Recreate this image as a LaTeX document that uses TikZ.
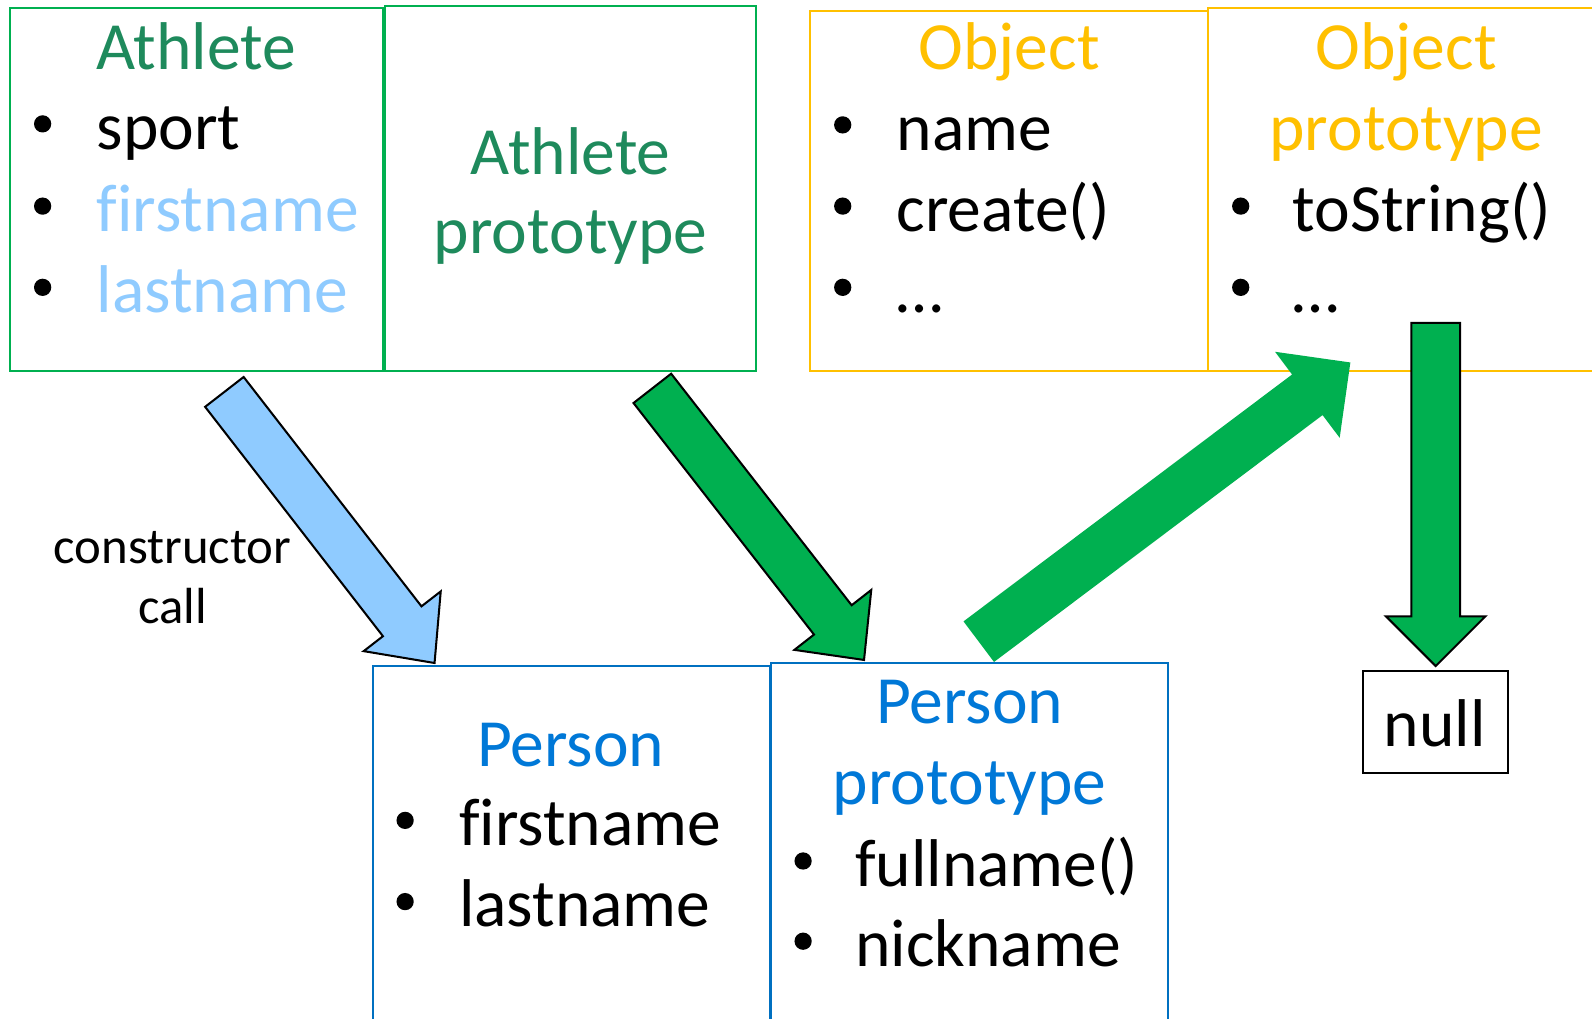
\documentclass[tikz,border=0pt]{standalone}
\usepackage{fontspec}
\setmainfont{Carlito}[Ligatures=NoCommon]
\usetikzlibrary{calc,fit}

\definecolor{boxgreen}{RGB}{0,176,80}
\definecolor{titlegreen}{RGB}{30,138,92}
\definecolor{lightblue}{RGB}{143,203,255}
\definecolor{objorange}{RGB}{255,192,0}
\definecolor{persborder}{RGB}{0,112,192}
\definecolor{perstext}{RGB}{0,120,215}
\definecolor{arrowgreen}{RGB}{0,176,80}

\newcommand\bigtext{\fontsize{66.5}{80}\selectfont}
\newcommand\smalltext{\fontsize{50}{60}\selectfont}

% block arrow: #1 style, #2 tail, #3 tip, #4 shaft half width,
% #5 head half width, #6 head length
\newcommand\blockarrow[6]{%
  \path ($(#3)!#6!(#2)$) coordinate (neck-#3);
  \path[#1] ($(#2)!#4!90:(#3)$) -- ($(neck-#3)!#4!90:(#3)$)
    -- ($(neck-#3)!#5!90:(#3)$) -- (#3)
    -- ($(neck-#3)!#5!-90:(#3)$) -- ($(neck-#3)!#4!-90:(#3)$)
    -- ($(#2)!#4!-90:(#3)$) -- cycle;
}

% one bulleted line: #1 name, #2 bullet x, #3 text x, #4 baseline, #5 colour, #6 text
\newcommand\bulletline[6]{%
  \node[bul] (#1-dot) at (#2,#4-25) {};
  \node[item, text=#5] (#1) at (#3,#4) {#6};
}

\tikzset{
  frame/.style={inner sep=0pt, outer sep=0pt, line width=2pt},
  bul/.style={circle, fill=black, inner sep=0pt, minimum size=17pt},
  item/.style={inner sep=0pt, anchor=base west, font=\bigtext},
  title/.style={inner sep=0pt, anchor=base, font=\bigtext},
  outlined/.style={draw=black, line width=2pt, line join=miter},
}

\begin{document}
\begin{tikzpicture}[x=1pt, y=-1pt]
\useasboundingbox (0,0) rectangle (1568,1003);
\fill[white] (0,0) rectangle (1568,1003);

% ---- Athlete ----
\node[frame, draw=boxgreen, fit={(10,8) (377,365)}] (athlete) {};
\node[title, text=titlegreen] (athlete-t) at (193,68) {Athlete};
\bulletline{ath-sport}{42}{95}{147}{black}{sport}
\bulletline{ath-first}{42}{95}{228}{lightblue}{firstname}
\bulletline{ath-last}{42}{95}{308}{lightblue}{lastname}

\node[frame, draw=boxgreen, fit={(379,6) (745,365)}] (athproto) {};
\node[title, text=titlegreen] (athproto-t1) at (562,172) {Athlete};
\node[title, text=titlegreen] (athproto-t2) at (562,250) {prototype};

% ---- Object ----
\node[frame, draw=objorange, fit={(798,11) (1190,365)}] (object) {};
\node[title, text=objorange] (object-t) at (994,68) {Object};
\bulletline{obj-name}{830}{883}{148}{black}{name}
\bulletline{obj-create}{830}{883}{228}{black}{create()}
\bulletline{obj-more}{830}{883}{308}{black}{…}

\node[frame, draw=objorange, fit={(1190,8) (1580,365)}] (objproto) {};
\node[title, text=objorange] (objproto-t1) at (1385,68) {Object};
\node[title, text=objorange] (objproto-t2) at (1385,148) {prototype};
\bulletline{op-tostring}{1222}{1273}{228}{black}{toString()}
\bulletline{op-more}{1222}{1273}{308}{black}{…}

% ---- Person ----
\node[frame, draw=persborder, fit={(367,656) (758,1020)}] (person) {};
\node[title, text=perstext] (person-t) at (562,755) {Person};
\bulletline{pers-first}{399}{452}{833}{black}{firstname}
\bulletline{pers-last}{399}{452}{913}{black}{lastname}

\node[frame, draw=persborder, fit={(759,653) (1150,1020)}] (persproto) {};
\node[title, text=perstext] (persproto-t1) at (955,713) {Person};
\node[title, text=perstext] (persproto-t2) at (955,792) {prototype};
\bulletline{pp-full}{791}{842}{873}{black}{fullname()}
\bulletline{pp-nick}{791}{842}{952}{black}{nickname}

% ---- null ----
\node[frame, draw=black, fit={(1342,661) (1485,761)}] (null) {};
\node[title] (null-t) at (1413,735) {null};

% ---- constructor call label ----
\node[inner sep=0pt, anchor=base, font=\smalltext] (ctor1) at (170,555) {constructor};
\node[inner sep=0pt, anchor=base, font=\smalltext] (ctor2) at (170,614) {call};

% ---- arrows ----
\coordinate (ctor-tail) at (221,386);
\coordinate (ctor-tip) at (428,653);
\blockarrow{outlined, fill=lightblue}{ctor-tail}{ctor-tip}{24pt}{48pt}{52pt}

\coordinate (ap-tail) at (642.5,382.5);
\coordinate (ap-tip) at (851,650);
\blockarrow{outlined, fill=arrowgreen}{ap-tail}{ap-tip}{23.5pt}{48pt}{50pt}

\coordinate (pp-tail) at (964,632);
\coordinate (pp-tip) at (1330,357);
\blockarrow{fill=arrowgreen}{pp-tail}{pp-tip}{25pt}{53pt}{53pt}

\coordinate (op-tail) at (1414,318);
\coordinate (op-tip) at (1414,656);
\blockarrow{outlined, fill=arrowgreen}{op-tail}{op-tip}{24pt}{49pt}{49pt}
\end{tikzpicture}
\end{document}
